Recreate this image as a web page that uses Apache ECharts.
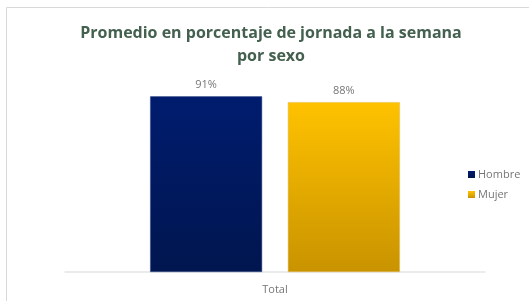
<!DOCTYPE html>
<html>
<head>
<meta charset="utf-8">
<script src="https://cdn.jsdelivr.net/npm/echarts@6/dist/echarts.min.js"></script>
<style>
  html, body { margin: 0; padding: 0; background: #fff; }
  #chart { width: 529px; height: 301px; }
</style>
</head>
<body>
<div id="chart"></div>
<script>
const categories = ['Total'];
const seriesNames = ['Hombre', 'Mujer'];
const hombre = [91];
const mujer = [88];

const chart = echarts.init(document.getElementById('chart'));

// gradientes parecidos a los del original
const gradHombre = new echarts.graphic.LinearGradient(0, 0, 0, 1, [
    { offset: 0, color: '#001c6e' },
    { offset: 1, color: '#00164f' }
]);
const gradMujer = new echarts.graphic.LinearGradient(0, 0, 0, 1, [
    { offset: 0, color: '#ffc200' },
    { offset: 1, color: '#c99300' }
]);

const labelStyle = {
    show: true,
    position: 'top',
    distance: 6,
    color: '#767676',
    fontFamily: 'Open Sans',
    fontSize: 11,
    formatter: (p) => p.value + '%'
};

chart.setOption({
    animation: false,
    graphic: [{
        type: 'rect',
        shape: { x: 6.5, y: 7.5, width: 540, height: 310 },
        style: { fill: 'none', stroke: '#d9d9d9', lineWidth: 1 },
        z: -1
    }],
    title: {
        text: 'Promedio en porcentaje de jornada a la semana\npor sexo',
        left: 266,
        textAlign: 'center',
        top: 17,
        textStyle: {
            color: '#44604f',
            fontFamily: 'Open Sans',
            fontWeight: 'bold',
            fontSize: 16,
            lineHeight: 23
        }
    },
    legend: {
        orient: 'vertical',
        left: 463,
        top: 164,
        itemWidth: 7,
        itemHeight: 7,
        itemGap: 9,
        icon: 'rect',
        itemStyle: { borderWidth: 0 },
        textStyle: {
            color: '#767676',
            fontFamily: 'Open Sans',
            fontSize: 11,
            padding: [0, 0, 0, -2]
        },
        data: seriesNames
    },
    grid: {
        left: 65,
        right: 44,
        top: 79,
        bottom: 29,
        containLabel: false
    },
    xAxis: {
        type: 'category',
        data: categories,
        axisLine: { lineStyle: { color: '#e3e6e6', width: 1.5 } },
        axisTick: { show: false },
        axisLabel: {
            color: '#767676',
            fontFamily: 'Open Sans',
            fontSize: 11,
            margin: 12
        }
    },
    yAxis: {
        type: 'value',
        min: 0,
        max: 100,
        show: false,
        splitLine: { show: false }
    },
    series: [
        {
            name: seriesNames[0],
            type: 'bar',
            data: hombre,
            barWidth: 112,
            barGap: '23%',
            itemStyle: { color: gradHombre, borderColor: '#3a4f8a', borderWidth: 0.5 },
            label: labelStyle
        },
        {
            name: seriesNames[1],
            type: 'bar',
            data: mujer,
            barWidth: 112,
            itemStyle: { color: gradMujer, borderColor: '#e0b850', borderWidth: 0.5 },
            label: labelStyle
        }
    ]
});
</script>
</body>
</html>
